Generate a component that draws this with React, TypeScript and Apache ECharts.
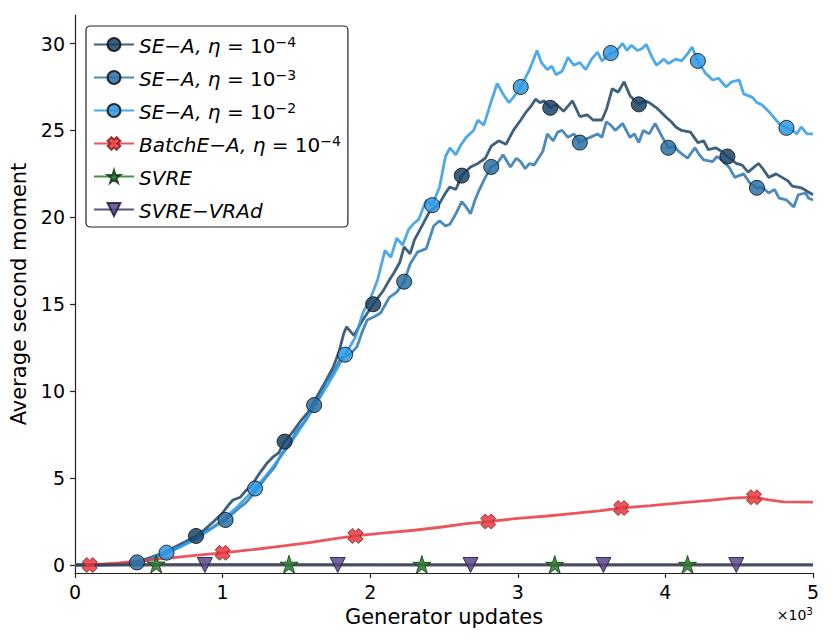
import React, { useEffect, useRef } from "react";
import * as echarts from "echarts";

// x values are in thousands of generator updates
const seA4: [number, number][] = [
  [0, 0], [0.1, 0], [0.2, 0.02], [0.3, 0.05], [0.38, 0.1], [0.45, 0.25], [0.52, 0.45], [0.6, 0.7],
  [0.68, 1.05], [0.75, 1.35], [0.82, 1.67], [0.88, 2.05], [0.94, 2.5], [1.0, 3.0], [1.04, 3.45],
  [1.07, 3.74], [1.12, 3.9], [1.16, 4.3], [1.19, 4.5], [1.25, 5.27], [1.3, 5.85], [1.34, 6.2],
  [1.38, 6.45], [1.42, 7.1], [1.47, 7.6], [1.53, 8.3], [1.58, 8.8], [1.64, 9.7], [1.7, 10.6],
  [1.75, 11.4], [1.79, 12.3], [1.82, 13.3], [1.84, 13.7], [1.89, 13.2], [1.95, 14.1], [2.02, 15.0],
  [2.09, 15.8], [2.13, 16.4], [2.16, 16.8], [2.2, 17.4], [2.23, 18.3], [2.27, 17.9], [2.3, 18.7],
  [2.35, 19.5], [2.4, 20.3], [2.44, 20.6], [2.47, 20.8], [2.51, 21.4], [2.54, 21.75], [2.58, 21.6],
  [2.62, 22.4], [2.68, 22.9], [2.73, 23.1], [2.78, 23.4], [2.82, 24.1], [2.87, 24.4], [2.92, 24.2],
  [2.97, 25.0], [3.02, 25.6], [3.06, 26.1], [3.09, 26.4], [3.12, 26.8], [3.15, 26.6], [3.18, 26.7],
  [3.22, 26.3], [3.26, 26.5], [3.31, 26.1], [3.37, 26.7], [3.42, 25.8], [3.47, 25.9], [3.51, 25.6],
  [3.57, 25.6], [3.6, 26.2], [3.64, 27.4], [3.68, 27.2], [3.72, 27.8], [3.76, 27.0], [3.82, 26.5],
  [3.86, 26.7], [3.89, 26.6], [3.94, 26.3], [4.0, 25.8], [4.04, 25.5], [4.07, 25.2], [4.11, 25.0],
  [4.17, 24.9], [4.22, 24.3], [4.26, 24.4], [4.29, 23.9], [4.34, 24.0], [4.38, 23.8], [4.42, 23.5],
  [4.48, 23.1], [4.52, 23.0], [4.56, 22.6], [4.63, 23.1], [4.66, 22.8], [4.7, 22.3], [4.75, 22.5],
  [4.79, 22.3], [4.83, 22.1], [4.86, 21.8], [4.92, 21.7], [4.96, 21.5], [5.0, 21.3],
];
const seA4Markers = [0.82, 1.42, 2.02, 2.62, 3.22, 3.82, 4.42];

const seA3: [number, number][] = [
  [0, 0], [0.1, 0], [0.2, 0.01], [0.3, 0.04], [0.42, 0.15], [0.5, 0.3], [0.6, 0.6], [0.7, 1.0],
  [0.8, 1.5], [0.9, 2.0], [1.02, 2.59], [1.1, 3.2], [1.16, 3.6], [1.2, 4.0], [1.3, 5.1], [1.35, 5.6],
  [1.4, 6.4], [1.45, 6.9], [1.5, 7.7], [1.56, 8.3], [1.62, 9.2], [1.66, 9.7], [1.7, 10.5], [1.75, 11.1],
  [1.8, 11.9], [1.86, 12.1], [1.91, 12.55], [1.95, 13.5], [1.98, 14.1], [2.03, 14.3], [2.07, 14.5],
  [2.13, 15.4], [2.18, 15.7], [2.23, 16.3], [2.27, 17.3], [2.32, 18.0], [2.38, 18.2], [2.43, 19.5],
  [2.47, 19.8], [2.51, 19.5], [2.54, 19.6], [2.58, 20.2], [2.62, 20.9], [2.65, 20.6], [2.68, 20.2],
  [2.71, 21.0], [2.74, 21.6], [2.78, 22.3], [2.82, 22.9], [2.86, 23.1], [2.9, 23.6], [2.95, 22.9],
  [2.99, 23.4], [3.02, 23.2], [3.05, 22.8], [3.08, 23.1], [3.11, 23.0], [3.14, 23.4], [3.17, 23.8],
  [3.2, 24.8], [3.24, 24.4], [3.27, 24.9], [3.3, 25.0], [3.34, 24.6], [3.38, 24.8], [3.42, 24.3],
  [3.46, 24.5], [3.49, 24.6], [3.54, 24.8], [3.57, 24.6], [3.6, 25.5], [3.63, 25.3], [3.66, 25.0],
  [3.71, 25.4], [3.76, 24.6], [3.79, 24.8], [3.82, 24.3], [3.85, 25.0], [3.89, 24.8], [3.93, 25.4],
  [3.98, 24.6], [4.02, 24.0], [4.06, 24.1], [4.09, 23.8], [4.15, 23.4], [4.2, 24.0], [4.23, 23.6],
  [4.26, 23.3], [4.32, 23.2], [4.35, 23.5], [4.38, 23.3], [4.43, 22.9], [4.47, 22.3], [4.53, 22.5],
  [4.57, 22.0], [4.62, 21.7], [4.66, 21.7], [4.7, 21.4], [4.74, 21.6], [4.77, 21.1], [4.82, 21.0],
  [4.87, 20.6], [4.9, 21.3], [4.95, 21.4], [4.97, 21.1], [5.0, 21.0],
];
const seA3Markers = [0.42, 1.02, 1.62, 2.23, 2.82, 3.42, 4.02, 4.62];

const seA2: [number, number][] = [
  [0, 0], [0.1, 0], [0.2, 0], [0.3, 0.03], [0.4, 0.1], [0.5, 0.3], [0.62, 0.71], [0.7, 1.0],
  [0.8, 1.4], [0.9, 1.95], [1.0, 2.6], [1.1, 3.35], [1.22, 4.4], [1.3, 5.2], [1.4, 6.3], [1.5, 7.5],
  [1.6, 8.8], [1.7, 10.2], [1.77, 11.2], [1.83, 12.1], [1.9, 13.1], [1.95, 14.5], [2.0, 15.3],
  [2.05, 16.4], [2.1, 18.1], [2.14, 17.7], [2.18, 18.8], [2.22, 18.4], [2.26, 19.3], [2.29, 19.6],
  [2.33, 19.9], [2.38, 21.0], [2.42, 20.7], [2.47, 21.75], [2.51, 23.5], [2.54, 24.0], [2.58, 23.6],
  [2.61, 24.1], [2.65, 24.6], [2.7, 25.0], [2.73, 25.6], [2.77, 25.3], [2.81, 26.4], [2.86, 27.7],
  [2.9, 27.1], [2.94, 26.6], [2.97, 26.9], [3.02, 27.5], [3.08, 28.5], [3.13, 29.6], [3.16, 28.9],
  [3.2, 28.5], [3.23, 28.7], [3.26, 28.2], [3.3, 28.4], [3.34, 29.2], [3.38, 28.75], [3.42, 28.9],
  [3.46, 28.5], [3.5, 29.1], [3.54, 29.5], [3.57, 29.0], [3.63, 29.45], [3.66, 29.5], [3.71, 30.0],
  [3.74, 29.6], [3.77, 29.9], [3.81, 29.6], [3.84, 29.7], [3.87, 29.95], [3.91, 29.2], [3.94, 28.75],
  [3.99, 29.1], [4.02, 28.85], [4.07, 29.1], [4.11, 29.0], [4.15, 29.4], [4.18, 29.8], [4.22, 29.0],
  [4.27, 28.3], [4.32, 27.9], [4.36, 28.0], [4.41, 27.5], [4.45, 27.8], [4.5, 27.9], [4.53, 27.1],
  [4.59, 26.9], [4.62, 26.6], [4.65, 26.5], [4.71, 26.0], [4.77, 25.4], [4.82, 25.15], [4.86, 25.0],
  [4.89, 24.8], [4.92, 25.2], [4.96, 24.8], [5.0, 24.8],
];
const seA2Markers = [0.62, 1.22, 1.83, 2.42, 3.02, 3.63, 4.22, 4.82];

const batch: [number, number][] = [
  [0.1, 0], [0.3, 0.12], [0.5, 0.3], [0.7, 0.45], [0.85, 0.58], [1.0, 0.7], [1.2, 0.88], [1.4, 1.08],
  [1.6, 1.3], [1.75, 1.5], [1.9, 1.67], [2.1, 1.85], [2.3, 2.0], [2.5, 2.2], [2.65, 2.38], [2.8, 2.5],
  [3.0, 2.68], [3.2, 2.82], [3.4, 2.98], [3.55, 3.12], [3.7, 3.28], [3.9, 3.42], [4.1, 3.58],
  [4.3, 3.72], [4.45, 3.85], [4.6, 3.9], [4.7, 3.75], [4.8, 3.63], [5.0, 3.62],
];
const batchMarkers = [0.1, 1.0, 1.9, 2.8, 3.7, 4.6];

const svre: [number, number][] = [
  [0, 0.02], [0.55, 0.05], [1.0, 0.04], [1.45, 0.04], [2.35, 0.03], [3.25, 0.03], [4.15, 0.03], [5.0, 0.03],
];
const svreMarkers = [0.55, 1.45, 2.35, 3.25, 4.15];

const vrad: [number, number][] = [
  [0, 0], [0.88, 0], [1.78, 0], [2.68, 0], [3.58, 0], [4.48, 0], [5.0, 0],
];
const vradMarkers = [0.88, 1.78, 2.68, 3.58, 4.48];

const seriesNames = [
  "SE−A, η = 10⁻⁴",
  "SE−A, η = 10⁻³",
  "SE−A, η = 10⁻²",
  "BatchE−A, η = 10⁻⁴",
  "SVRE",
  "SVRE−VRAd",
];
const legendRich: Record<string, string> = {
  "SE−A, η = 10⁻⁴": "{i|SE−A, η}{n| = 10}{s|−4}",
  "SE−A, η = 10⁻³": "{i|SE−A, η}{n| = 10}{s|−3}",
  "SE−A, η = 10⁻²": "{i|SE−A, η}{n| = 10}{s|−2}",
  "BatchE−A, η = 10⁻⁴": "{i|BatchE−A, η}{n| = 10}{s|−4}",
  SVRE: "{i|SVRE}",
  "SVRE−VRAd": "{i|SVRE−VRAd}",
};

const yTicks = [0, 5, 10, 15, 20, 25, 30];
const xLabel = "Generator updates";
const yLabel = "Average second moment";
const xScaleBase = "×10";
const xScaleExp = "3";

const X_PATH = "path://M3,0 L5,2 L7,0 L10,3 L8,5 L10,7 L7,10 L5,8 L3,10 L0,7 L2,5 L0,3 Z";
const STAR_PATH =
  "path://M50,0 L61.23,34.55 L97.55,34.55 L68.17,55.9 L79.39,90.45 L50,69.1 L20.61,90.45 L31.83,55.9 L2.45,34.55 L38.77,34.55 Z";
const TRI_DOWN = "path://M0,0 L10,0 L5,9 Z";

const FONT = "DejaVu Sans";

function buildData(points: [number, number][], markers: number[]) {
  return points.map(([x, y]) => {
    const isMarker = markers.some((m) => Math.abs(m - x) < 1e-6);
    return isMarker ? { value: [x, y] } : { value: [x, y], symbol: "none" };
  });
}

function mkSeries(
  name: string,
  points: [number, number][],
  markers: number[],
  fill: string,
  line: string,
  symbol: string,
  symbolSize: number,
  width: number,
  edge: string
) {
  return {
    name,
    type: "line",
    data: buildData(points, markers),
    symbol,
    symbolSize,
    showSymbol: true,
    showAllSymbol: true,
    color: fill,
    lineStyle: { color: line, width, opacity: 0.85 },
    itemStyle: { color: fill, borderColor: edge, borderWidth: 1, opacity: 0.85 },
    emphasis: { disabled: true },
    silent: true,
  };
}

export default function App() {
  const ref = useRef<HTMLDivElement>(null);
  useEffect(() => {
    if (!ref.current) return;
    const chart = echarts.init(ref.current, null, { renderer: "svg" });
    const axisColor = "#222";
    chart.setOption({
      animation: false,
      backgroundColor: "#fff",
      grid: { left: 75, right: 18, top: 15, bottom: 70, outerBoundsMode: "none" },
      xAxis: {
        type: "value",
        min: 0,
        max: 5,
        interval: 1,
        axisLine: { show: true, onZero: false, lineStyle: { color: axisColor, width: 1.2 } },
        axisTick: { show: true, inside: false, length: 5, lineStyle: { color: axisColor, width: 1.2 } },
        axisLabel: { fontFamily: FONT, fontSize: 19, color: "#000", margin: 9 },
        splitLine: { show: false },
        name: xLabel,
        nameLocation: "middle",
        nameGap: 33,
        nameTextStyle: { fontFamily: FONT, fontSize: 21, color: "#000" },
      },
      yAxis: {
        type: "value",
        min: -0.46,
        max: 31.64,
        axisLine: { show: true, onZero: false, lineStyle: { color: axisColor, width: 1.2 } },
        axisTick: {
          show: true,
          inside: false,
          length: 5,
          customValues: yTicks,
          lineStyle: { color: axisColor, width: 1.2 },
        },
        axisLabel: { customValues: yTicks, fontFamily: FONT, fontSize: 19, color: "#000", margin: 10 },
        splitLine: { show: false },
        name: yLabel,
        nameLocation: "middle",
        nameGap: 40,
        nameTextStyle: { fontFamily: FONT, fontSize: 21, color: "#000" },
      },
      legend: {
        orient: "vertical",
        left: 86,
        top: 26,
        padding: [7, 7, 6, 7],
        itemGap: 10,
        itemWidth: 40,
        itemHeight: 16,
        borderColor: "#222",
        borderWidth: 1.2,
        borderRadius: 4,
        backgroundColor: "rgba(255,255,255,0.85)",
        selectedMode: false,
        data: seriesNames,
        formatter: (name: string) => legendRich[name] ?? name,
        textStyle: {
          fontFamily: FONT,
          fontSize: 20,
          color: "#000",
          rich: {
            i: {
              fontFamily: FONT,
              fontSize: 20,
              fontStyle: "italic",
              color: "#000",
              lineHeight: 19,
              padding: [3, 0, 0, 0],
            },
            n: { fontFamily: FONT, fontSize: 20, color: "#000", lineHeight: 19, padding: [3, 0, 0, 0] },
            s: { fontFamily: FONT, fontSize: 14, color: "#000", lineHeight: 14, verticalAlign: "top" },
          },
        },
      },
      graphic: [
        {
          type: "text",
          right: 18,
          top: 604,
          style: {
            text: `{a|${xScaleBase}}{b|${xScaleExp}}`,
            fontFamily: FONT,
            fontSize: 14,
            fill: "#000",
            rich: {
              a: { fontFamily: FONT, fontSize: 14, fill: "#000", lineHeight: 15, padding: [4, 0, 0, 0] },
              b: { fontFamily: FONT, fontSize: 10.5, fill: "#000", lineHeight: 11, verticalAlign: "top" },
            },
          },
        },
      ],
      series: [
        mkSeries(seriesNames[0], seA4, seA4Markers, "#1b4366", "#1c4466", "circle", 15, 2.8, "#111"),
        mkSeries(seriesNames[1], seA3, seA3Markers, "#2a70a6", "#2a76b0", "circle", 15, 2.8, "#111"),
        mkSeries(seriesNames[2], seA2, seA2Markers, "#2f97e2", "#2f9ae6", "circle", 15, 2.8, "#111"),
        mkSeries(seriesNames[3], batch, batchMarkers, "#e5383e", "#e53a40", X_PATH, 15, 2.8, "#8a1c20"),
        mkSeries(seriesNames[4], svre, svreMarkers, "#2a7a2e", "#2a7d2e", STAR_PATH, 18, 2, "#123d14"),
        mkSeries(seriesNames[5], vrad, vradMarkers, "#5a468a", "#3f3a5e", TRI_DOWN, 15, 3, "#22183a"),
      ],
    });
    return () => chart.dispose();
  }, []);
  return (
    <div
      ref={ref}
      style={{ position: "fixed", left: 0, top: 0, width: 831, height: 643, background: "#fff" }}
    />
  );
}
